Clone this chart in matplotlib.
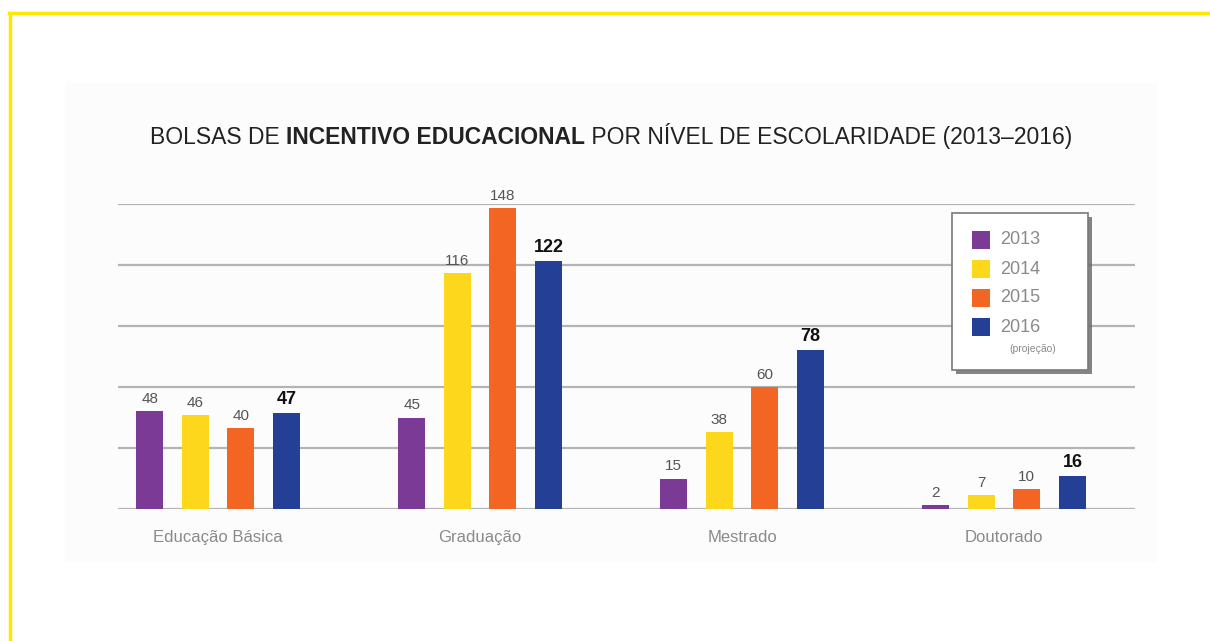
import numpy as np
import matplotlib.pyplot as plt
from matplotlib.patches import Rectangle
from matplotlib.lines import Line2D

plt.rcParams['font.family'] = ['Liberation Sans', 'DejaVu Sans']

# dados
niveis = ["Educação Básica", "Graduação", "Mestrado", "Doutorado"]
anos = ["2013", "2014", "2015", "2016"]
v2013 = [48, 45, 15, 2]
v2014 = [46, 116, 38, 7]
v2015 = [40, 148, 60, 10]
v2016 = [47, 122, 78, 16]
series = [v2013, v2014, v2015, v2016]
cores = ["#7b3a96", "#fdd71c", "#f26522", "#243f96"]
grid_ticks = [0, 30, 60, 90, 120, 150]

W, H = 1210, 641
fig = plt.figure(figsize=(W / 100, H / 100), dpi=100)
fig.patch.set_facecolor("white")

def px(x, y):
    # pixel (from top-left) -> figure fraction
    return x / W, 1 - y / H

# faint background panel
fig.patches.append(Rectangle(px(65, 562), (1157 - 65) / W, (562 - 83) / H,
                             transform=fig.transFigure, facecolor="#fcfcfc",
                             edgecolor="none", zorder=-5))

# yellow frame (top and left edges only visible)
fig.lines.append(Line2D([9 / W, 1], [1 - 13 / H] * 2, transform=fig.transFigure,
                        color="#ffe800", lw=2.5))
fig.lines.append(Line2D([10 / W] * 2, [1 - 13 / H, 0], transform=fig.transFigure,
                        color="#ffe800", lw=2.5))

ax = fig.add_axes([118 / W, (H - 509) / H, (1135 - 118) / W, (509 - 204) / H])
ax.set_facecolor("none")
ax.set_ylim(0, 150)
ax.set_xlim(-0.382, 3.5)
for s in ax.spines.values():
    s.set_visible(False)
ax.set_yticks([])
ax.set_xticks([])
for t in grid_ticks:
    ax.axhline(t, color="#b4b4b4", lw=1.6, zorder=1)

x = np.arange(len(niveis))
step = 0.174
width = 0.103
for i, (vals, cor) in enumerate(zip(series, cores)):
    pos = x + (i - 1.5) * step
    ax.bar(pos, vals, width=width, color=cor, zorder=2)
    for p, v in zip(pos, vals):
        if i == 3:
            ax.text(p, v + 2.5, str(v), ha="center", va="bottom", fontsize=13,
                    fontweight="bold", color="#111111", clip_on=False)
        else:
            ax.text(p, v + 2.5, str(v), ha="center", va="bottom", fontsize=11,
                    color="#555555", clip_on=False)

for xi, nome in zip(x, niveis):
    ax.text(xi, -14, nome, ha="center", va="center", fontsize=12,
            color="#8a8a8a", clip_on=False)

# title with mixed weights
partes = [("BOLSAS DE ", "normal"), ("INCENTIVO EDUCACIONAL", "bold"),
          (" POR NÍVEL DE ESCOLARIDADE (2013–2016)", "normal")]
fig.canvas.draw()
r = fig.canvas.get_renderer()
textos = []
for s, w in partes:
    textos.append(fig.text(0, 1 - 144 / H, s, fontsize=16.5, fontweight=w,
                           color="#222222", va="baseline", ha="left"))
larguras = [t.get_window_extent(r).width for t in textos]
x0 = 611 - sum(larguras) / 2
for t, lw_ in zip(textos, larguras):
    t.set_x(x0 / W)
    x0 += lw_

# legend box
lx, ly, lw, lh = 952, 213, 136, 157
fig.patches.append(Rectangle(px(lx + 4, ly + lh + 4), lw / W, lh / H,
                             transform=fig.transFigure, facecolor="#666666",
                             edgecolor="none", zorder=3, alpha=0.8))
fig.patches.append(Rectangle(px(lx, ly + lh), lw / W, lh / H,
                             transform=fig.transFigure, facecolor="white",
                             edgecolor="#7a7a7a", lw=1.2, zorder=4))
for k, (ano, cor) in enumerate(zip(anos, cores)):
    cy = 240 + k * 29
    fig.patches.append(Rectangle(px(972, cy + 9), 18 / W, 18 / H,
                                 transform=fig.transFigure, facecolor=cor,
                                 edgecolor="none", zorder=5))
    fig.text(1000 / W, 1 - cy / H, ano, fontsize=13, color="#8a8a8a",
             va="center", ha="left", zorder=5)
fig.text(1033 / W, 1 - 349 / H, "(projeção)", fontsize=7.5, color="#8a8a8a",
         va="center", ha="center", zorder=5)

fig.savefig("out.png", dpi=100)
